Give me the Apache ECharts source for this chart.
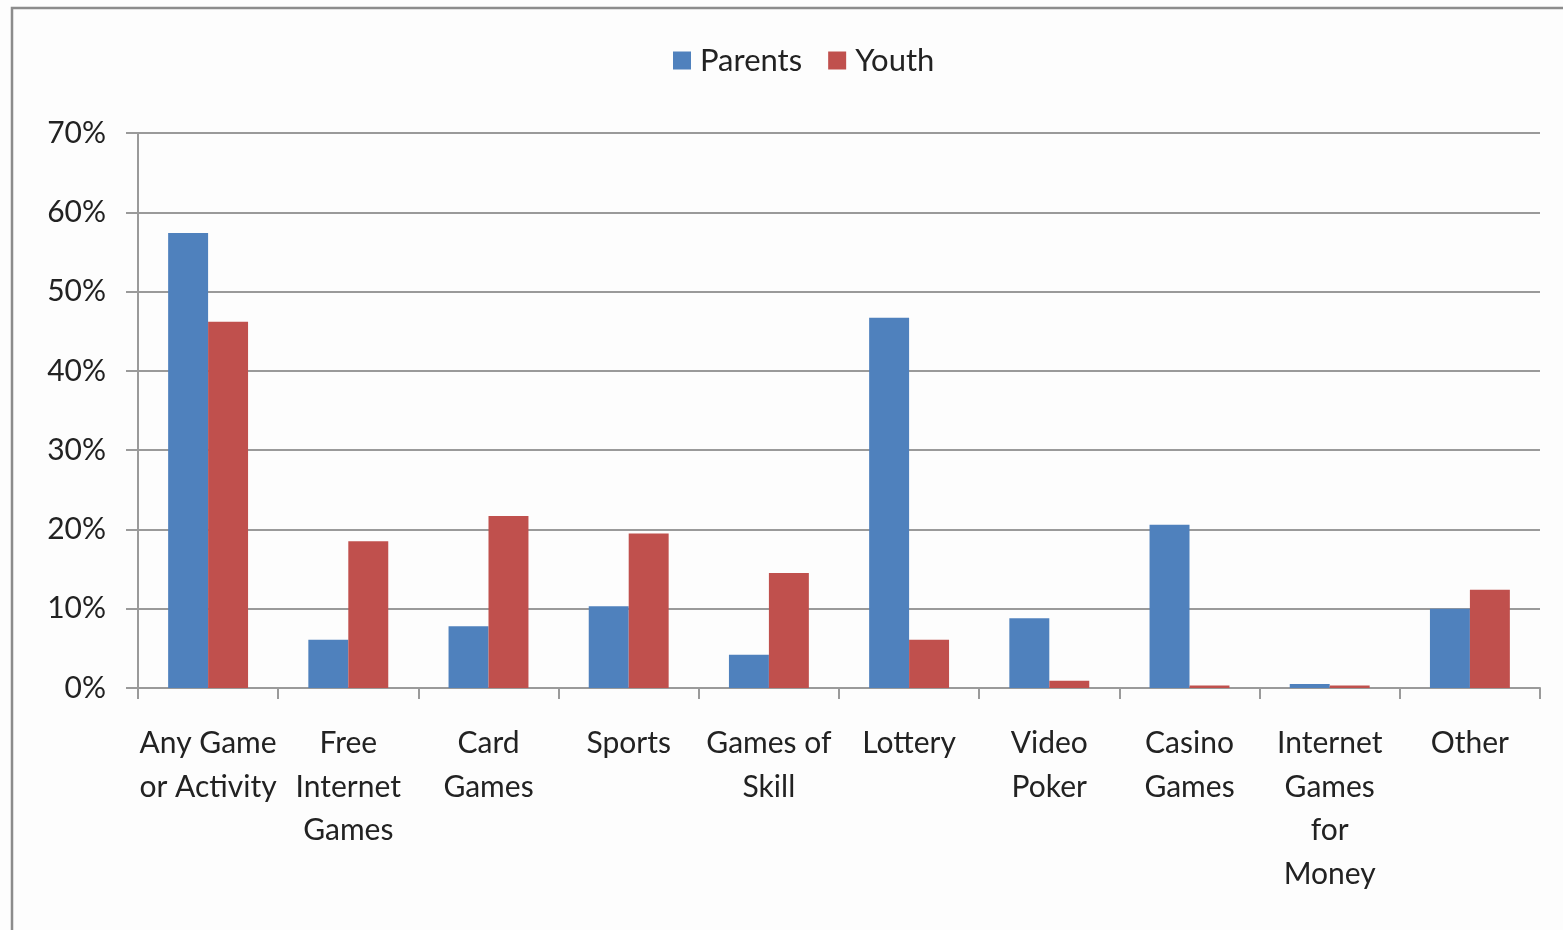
<!DOCTYPE html>
<html><head><meta charset="utf-8">
<script src="https://cdn.jsdelivr.net/npm/echarts@6/dist/echarts.min.js"></script>
<style>html,body{margin:0;padding:0;background:#fff}#c{width:1563px;height:930px}</style>
</head><body><div id="c"></div>
<script>
const categories = ["Any Game\nor Activity","Free\nInternet\nGames","Card\nGames","Sports","Games of\nSkill","Lottery","Video\nPoker","Casino\nGames","Internet\nGames\nfor\nMoney","Other"];
const parents = [57.4, 6.1, 7.8, 10.3, 4.2, 46.7, 8.8, 20.6, 0.5, 10.0];
const youth = [46.2, 18.5, 21.7, 19.5, 14.5, 6.1, 0.9, 0.3, 0.3, 12.4];
const yTicks = [0, 10, 20, 30, 40, 50, 60, 70];
const seriesNames = ["Parents", "Youth"];

const font = "Lato, 'Open Sans', sans-serif";
const chart = echarts.init(document.getElementById('c'));
chart.setOption({
  animation: false,
  backgroundColor: '#fdfdfd',
  graphic: [{type:'rect', shape:{x:12, y:8, width:1600, height:1000}, style:{fill:'none', stroke:'#8c8c8c', lineWidth:2.5}, silent:true, z:-1}],
  legend: {
    top: 40, left: 668, itemWidth: 18, itemHeight: 18, itemGap: 26,
    icon: 'rect',
    textStyle: {fontFamily: font, fontSize: 31, color: '#222', padding: [0, 0, 0, 4]},
    data: seriesNames
  },
  grid: {left: 138, right: 23, top: 133, bottom: 242},
  xAxis: {
    type: 'category', data: categories,
    axisLine: {lineStyle: {color: '#9a9a9a', width: 2}},
    axisTick: {show: true, length: 11, lineStyle: {color: '#9a9a9a', width: 2}},
    axisLabel: {interval: 0, fontFamily: font, fontSize: 30, color: '#222', lineHeight: 43.5, margin: 34}
  },
  yAxis: {
    type: 'value', min: yTicks[0], max: yTicks[yTicks.length-1], interval: 10,
    axisLine: {show: true, lineStyle: {color: '#9a9a9a', width: 2}},
    axisTick: {show: true, length: 12, lineStyle: {color: '#9a9a9a', width: 2}},
    splitLine: {lineStyle: {color: '#9a9a9a', width: 2}},
    axisLabel: {formatter: v => v + '%', fontFamily: font, fontSize: 30, color: '#222', margin: 32}
  },
  series: [
    {name: seriesNames[0], type: 'bar', data: parents, barGap: '0%', barCategoryGap: '43%', itemStyle: {color: '#4F81BD'}},
    {name: seriesNames[1], type: 'bar', data: youth, itemStyle: {color: '#C0504D'}}
  ]
});
</script></body></html>
